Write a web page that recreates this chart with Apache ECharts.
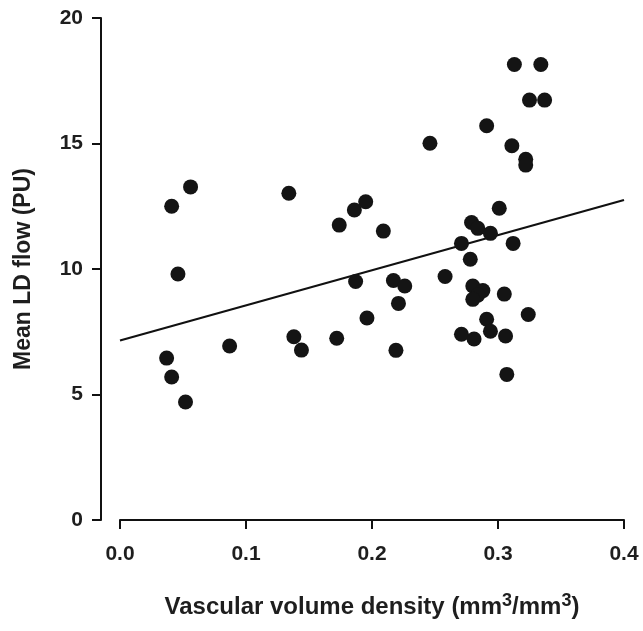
<!DOCTYPE html>
<html>
<head>
<meta charset="utf-8">
<script src="https://cdn.jsdelivr.net/npm/echarts@6/dist/echarts.min.js"></script>
<style>html,body{margin:0;padding:0;background:#fff;}#chart{width:643px;height:631px;}</style>
</head>
<body>
<div id="chart"></div>
<script>
var xValues = [0.037,0.041,0.052,0.041,0.046,0.056,0.087,0.134,0.138,0.144,0.172,0.174,0.186,0.187,0.195,0.196,0.209,0.217,0.226,0.221,0.219,0.246,0.258,0.271,0.279,0.284,0.294,0.278,0.280,0.288,0.284,0.280,0.305,0.291,0.301,0.312,0.311,0.322,0.322,0.313,0.334,0.325,0.337,0.324,0.291,0.294,0.271,0.281,0.306,0.307];
var yValues = [6.45,5.70,4.70,12.50,9.80,13.27,6.93,13.02,7.30,6.77,7.24,11.75,12.35,9.50,12.68,8.05,11.51,9.54,9.32,8.63,6.76,15.01,9.70,11.02,11.85,11.62,11.42,10.39,9.32,9.14,8.96,8.79,9.00,15.71,12.42,11.02,14.91,14.37,14.14,18.15,18.15,16.73,16.73,8.19,8.00,7.52,7.40,7.21,7.33,5.80];
var fitX = [0, 0.4];
var fitY = [7.15, 12.75];
var xTicks = [0, 0.1, 0.2, 0.3, 0.4];
var yTicks = [0, 5, 10, 15, 20];

var pts = xValues.map(function(x, i){ return [x, yValues[i]]; });
var fit = fitX.map(function(x, i){ return [x, fitY[i]]; });
var font = '"Liberation Sans", Arial, sans-serif';
var txt = '#1e1e1e';

var chart = echarts.init(document.getElementById('chart'), null, {renderer: 'canvas'});
chart.setOption({
  animation: false,
  backgroundColor: '#fff',
  grid: {left: 120, right: 19, top: 18, bottom: 111, containLabel: false},
  xAxis: {
    type: 'value', min: 0, max: 0.4, interval: 0.1,
    name: '{b|Vascular volume density (mm}{s|3}{b|/mm}{s|3}{b|)}',
    nameLocation: 'middle', nameGap: 72,
    nameTextStyle: {
      rich: {
        b: {fontFamily: font, fontWeight: 'bold', fontSize: 24, color: txt, lineHeight: 31},
        s: {fontFamily: font, fontWeight: 'bold', fontSize: 18, color: txt, lineHeight: 16, verticalAlign: 'top'}
      }
    },
    axisLine: {onZero: false, lineStyle: {color: '#111', width: 2}},
    axisTick: {show: true, inside: false, length: 9, lineStyle: {color: '#111', width: 2}},
    axisLabel: {margin: 24, fontFamily: font, fontWeight: 'bold', fontSize: 21, color: txt,
      formatter: function(v){ return v.toFixed(1); }},
    splitLine: {show: false}
  },
  yAxis: {
    type: 'value', min: 0, max: 20, interval: 5, offset: 19,
    name: 'Mean LD flow (PU)', nameLocation: 'middle', nameGap: 66, nameRotate: 90,
    nameTextStyle: {fontFamily: font, fontWeight: 'bold', fontSize: 23, color: txt},
    axisLine: {onZero: false, lineStyle: {color: '#111', width: 2}},
    axisTick: {show: true, inside: false, length: 9, lineStyle: {color: '#111', width: 2}},
    axisLabel: {margin: 18, fontFamily: font, fontWeight: 'bold', fontSize: 21, color: txt},
    splitLine: {show: false}
  },
  series: [
    {type: 'line', data: fit, symbol: 'none', lineStyle: {color: '#111', width: 2.2}, z: 2},
    {type: 'scatter', data: pts, symbol: 'circle', symbolSize: 15, itemStyle: {color: '#141414', opacity: 1}, z: 3}
  ]
});
</script>
</body>
</html>
